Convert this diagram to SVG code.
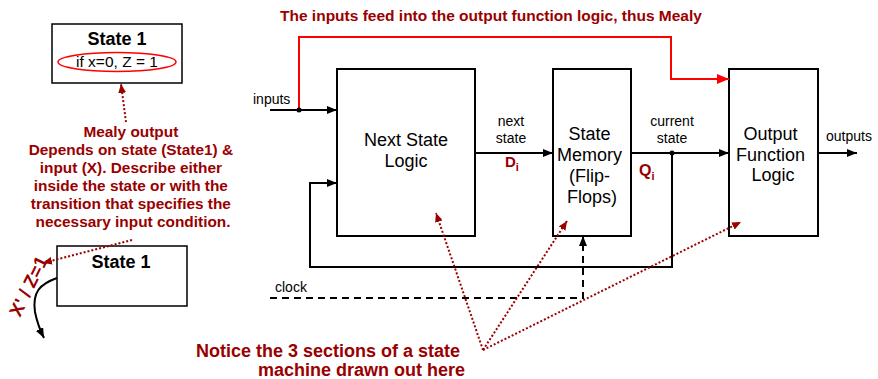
<svg xmlns="http://www.w3.org/2000/svg" width="878" height="379" viewBox="0 0 878 379">
<defs>
<style>
.box{fill:#fff;stroke:#000;stroke-width:2}
.ln{fill:none;stroke:#000;stroke-width:2}
.red{fill:none;stroke:#ff0000;stroke-width:2}
.dot{fill:none;stroke:#990000;stroke-width:2;stroke-dasharray:2 2}
.dash{fill:none;stroke:#000;stroke-width:2;stroke-dasharray:7 5}
.t{font-family:"Liberation Sans",Arial,sans-serif;fill:#000}
.big{font-size:18px}
.sm{font-size:14px}
.b{font-weight:bold}
.dr{font-family:"Liberation Sans",Arial,sans-serif;fill:#990000;font-weight:bold}
</style>
<marker id="ab" markerWidth="10" markerHeight="8" refX="10" refY="4" orient="auto" markerUnits="userSpaceOnUse"><path d="M0,0 L10,4 L0,8 z" fill="#000"/></marker>
<marker id="ar" markerWidth="12" markerHeight="10" refX="12" refY="5" orient="auto" markerUnits="userSpaceOnUse"><path d="M0,0 L12,5 L0,10 z" fill="#ff0000"/></marker>
<marker id="ad" markerWidth="9" markerHeight="8" refX="9" refY="4" orient="auto" markerUnits="userSpaceOnUse"><path d="M0,0 L9,4 L0,8 z" fill="#990000"/></marker>
</defs>

<g id="state1-top">
<rect x="52" y="24" width="130" height="59" fill="#fff" stroke="#000" stroke-width="1.5"/>
<text class="t b" x="117" y="45" font-size="18" text-anchor="middle">State 1</text>
<text class="t" x="117" y="67" font-size="15.5" text-anchor="middle">if x=0, Z = 1</text>
<ellipse cx="117" cy="62" rx="59" ry="9.5" fill="none" stroke="#ff0000" stroke-width="1.5"/>
</g>

<g id="mealy-note">
<text class="dr" font-size="15.4" text-anchor="middle">
<tspan x="133" y="137">Mealy output</tspan>
<tspan x="133" y="155">Depends on state (State1) &amp;</tspan>
<tspan x="133" y="173">input (X).  Describe either</tspan>
<tspan x="133" y="191">inside the state or with the</tspan>
<tspan x="133" y="209">transition that specifies the</tspan>
<tspan x="133" y="227">necessary input condition.</tspan>
</text>
</g>

<g id="state1-bottom">
<rect x="57" y="246" width="130" height="60" fill="#fff" stroke="#000" stroke-width="1.5"/>
<text class="t b" x="121" y="268" font-size="18" text-anchor="middle">State 1</text>
</g>

<g id="transition">
<path class="ln" d="M57,278 C40,284 32,292 35,312 C37,322 40,330 44,338" marker-end="url(#ab)"/>
<text class="dr" font-size="18.5" font-weight="normal" transform="translate(20,318) rotate(-64)">X' / Z=1</text>
</g>

<g id="title">
<text class="dr" x="280" y="21" font-size="15.5">The inputs feed into the output function logic, thus Mealy</text>
</g>

<g id="next-state-logic">
<rect class="box" x="337" y="69" width="138" height="167"/>
<text class="t big" x="406" y="146" text-anchor="middle">Next State</text>
<text class="t big" x="406" y="167" text-anchor="middle">Logic</text>
</g>

<g id="state-memory">
<rect class="box" x="553" y="69" width="78" height="167"/>
<text class="t big" text-anchor="middle">
<tspan x="592" y="140">State</tspan>
<tspan x="592" y="161">Memory</tspan>
<tspan x="592" y="182">(Flip-</tspan>
<tspan x="592" y="203">Flops)</tspan>
</text>
</g>

<g id="output-function-logic">
<rect class="box" x="729" y="69" width="89" height="167"/>
<text class="t big" text-anchor="middle">
<tspan x="773" y="140">Output</tspan>
<tspan x="773" y="161">Function</tspan>
<tspan x="773" y="181">Logic</tspan>
</text>
</g>

<g id="connectors">
<path class="red" d="M299,110 V37 H671 V79 H729" marker-end="url(#ar)"/>
<path class="ln" d="M270,110 H337" marker-end="url(#ab)"/>
<circle cx="299" cy="110" r="2.5" fill="#000"/>
<path class="ln" d="M672,153 V267 H310 V183 H337" marker-end="url(#ab)"/>
<path class="ln" d="M475,153 H553" marker-end="url(#ab)"/>
<path class="ln" d="M631,153 H729" marker-end="url(#ab)"/>
<circle cx="672" cy="153" r="2.5" fill="#000"/>
<path class="ln" d="M818,153 H857" marker-end="url(#ab)"/>
<path class="dash" d="M270,298 H583 V236" marker-end="url(#ab)"/>
<path class="dot" d="M126,122 L121,84" marker-end="url(#ad)"/>
<path class="dot" d="M132,240 L43,263" marker-end="url(#ad)"/>
<path class="dot" d="M483,350 L436,213" marker-end="url(#ad)"/>
<path class="dot" d="M483,350 L567,221" marker-end="url(#ad)"/>
<path class="dot" d="M483,350 L741,222" marker-end="url(#ad)"/>
</g>

<g id="labels">
<text class="t sm" x="253" y="104">inputs</text>
<text class="t sm" x="511" y="126" text-anchor="middle">next</text>
<text class="t sm" x="511" y="143" text-anchor="middle">state</text>
<text class="dr" x="505" y="167" font-size="15">D<tspan font-size="11" dy="4">i</tspan></text>
<text class="t sm" x="672" y="126" text-anchor="middle">current</text>
<text class="t sm" x="672" y="143" text-anchor="middle">state</text>
<text class="dr" x="639" y="176" font-size="16">Q<tspan font-size="11" dy="4">i</tspan></text>
<text class="t sm" x="826" y="141">outputs</text>
<text class="t sm" x="275" y="292">clock</text>
</g>

<g id="notice">
<text class="dr" font-size="18" text-anchor="end">
<tspan x="465" y="357">Notice the 3 sections of a state</tspan>
<tspan x="465" y="376">machine drawn out here</tspan>
</text>
</g>
</svg>
